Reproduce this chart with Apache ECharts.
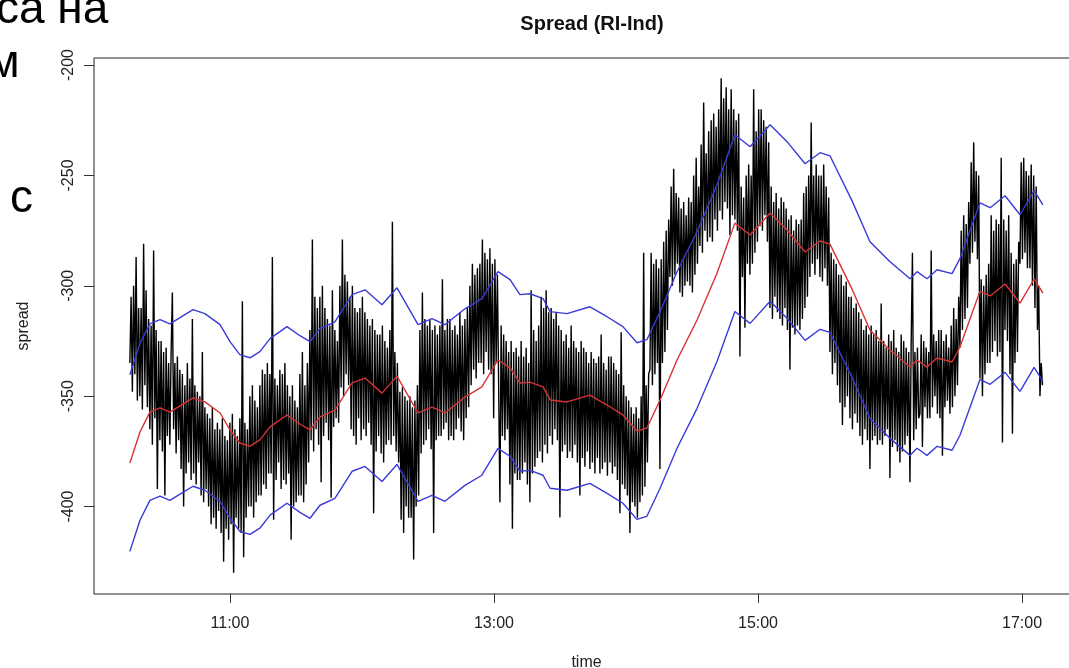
<!DOCTYPE html>
<html lang="ru">
<head>
<meta charset="UTF-8">
<title>Spread (RI-Ind)</title>
<script src="https://cdn.jsdelivr.net/npm/echarts@6/dist/echarts.min.js"></script>
<style>html,body{margin:0;padding:0;background:#fff;overflow:hidden}</style>
</head>
<body>
<div id="main" style="width:1069px;height:668px;"></div>
<script>
// spread samples, one every spreadStep minutes from spreadStart (minutes after midnight)
var spreadStart = 614.5;
var spreadStep = 0.5682;
var spread = [
    -335, -305, -348, -300, -340, -287, -352, -310,
    -350, -310, -356, -281, -345, -302, -355, -315,
    -365, -318, -372, -284, -360, -320, -392, -325,
    -370, -325, -375, -330, -395, -328, -368, -335,
    -372, -330, -303, -365, -335, -376, -332, -370,
    -338, -383, -340, -400, -345, -385, -335, -380,
    -342, -388, -315, -385, -345, -390, -348, -380,
    -350, -395, -330, -398, -355, -392, -358, -400,
    -360, -408, -355, -405, -365, -410, -362, -402,
    -365, -412, -360, -425, -368, -410, -370, -415,
    -362, -408, -358, -430, -365, -405, -368, -410,
    -360, -412, -307, -423, -362, -405, -365, -400,
    -350, -400, -345, -405, -352, -398, -355, -395,
    -345, -395, -338, -390, -340, -392, -335, -385,
    -340, -385, -287, -406, -342, -388, -345, -380,
    -338, -392, -340, -388, -335, -390, -345, -385,
    -350, -415, -345, -400, -352, -398, -355, -395,
    -340, -395, -330, -398, -345, -390, -335, -380,
    -320, -370, -279, -375, -305, -365, -310, -372,
    -305, -389, -300, -368, -310, -362, -315, -370,
    -318, -396, -302, -364, -320, -360, -325, -362,
    -300, -346, -279, -350, -295, -340, -298, -345,
    -305, -365, -300, -368, -310, -372, -312, -360,
    -310, -370, -305, -365, -312, -368, -315, -362,
    -318, -372, -315, -403, -320, -375, -322, -368,
    -322, -376, -318, -380, -325, -372, -328, -370,
    -320, -372, -271, -368, -330, -375, -335, -380,
    -348, -406, -346, -412, -350, -400, -352, -405,
    -350, -405, -355, -424, -352, -400, -345, -395,
    -320, -376, -303, -372, -315, -370, -318, -365,
    -315, -374, -320, -412, -318, -370, -322, -368,
    -318, -368, -297, -365, -320, -362, -315, -370,
    -315, -368, -320, -370, -318, -365, -322, -360,
    -312, -366, -318, -370, -315, -360, -310, -355,
    -300, -345, -290, -338, -295, -342, -292, -335,
    -290, -335, -279, -340, -285, -330, -288, -338,
    -283, -340, -290, -360, -288, -335, -295, -345,
    -398, -318, -368, -322, -370, -325, -365, -330,
    -390, -325, -410, -330, -385, -328, -388, -332,
    -388, -325, -385, -332, -380, -328, -390, -335,
    -398, -302, -385, -320, -382, -325, -378, -318,
    -375, -305, -380, -310, -372, -302, -376, -312,
    -368, -310, -372, -315, -365, -312, -370, -318,
    -405, -320, -375, -325, -372, -322, -378, -328,
    -375, -318, -378, -325, -372, -328, -380, -330,
    -395, -325, -378, -328, -382, -330, -375, -335,
    -383, -330, -380, -333, -385, -335, -378, -332,
    -385, -322, -383, -335, -380, -338, -386, -332,
    -380, -332, -385, -335, -382, -338, -388, -340,
    -403, -321, -390, -345, -392, -350, -395, -352,
    -412, -355, -398, -358, -400, -355, -405, -360,
    -398, -350, -395, -285, -391, -345, -380, -340,
    -338, -285, -345, -290, -340, -288, -335, -292,
    -383, -288, -335, -280, -330, -275, -320, -270,
    -296, -255, -300, -247, -295, -258, -290, -260,
    -303, -265, -305, -262, -300, -268, -298, -260,
    -300, -262, -303, -250, -295, -242, -290, -255,
    -282, -236, -285, -217, -275, -240, -280, -230,
    -278, -225, -280, -222, -270, -228, -275, -220,
    -266, -206, -270, -215, -262, -210, -265, -220,
    -277, -211, -268, -220, -270, -225, -275, -222,
    -332, -255, -296, -260, -319, -250, -290, -245,
    -295, -250, -290, -211, -285, -230, -280, -220,
    -273, -220, -275, -225, -268, -228, -280, -235,
    -310, -255, -315, -262, -305, -258, -312, -265,
    -315, -260, -318, -262, -310, -265, -320, -270,
    -338, -268, -319, -275, -322, -270, -318, -272,
    -320, -270, -315, -258, -310, -255, -305, -250,
    -296, -226, -290, -250, -295, -245, -288, -250,
    -296, -250, -298, -245, -292, -255, -300, -260,
    -330, -285, -340, -288, -335, -290, -345, -295,
    -353, -295, -363, -300, -355, -298, -350, -305,
    -360, -305, -365, -310, -358, -308, -362, -312,
    -368, -315, -372, -320, -365, -318, -370, -322,
    -383, -318, -370, -322, -368, -320, -372, -325,
    -370, -308, -372, -325, -368, -328, -365, -322,
    -387, -325, -373, -320, -370, -328, -375, -330,
    -380, -322, -375, -325, -372, -328, -368, -330,
    -389, -325, -285, -370, -330, -365, -328, -360,
    -358, -322, -373, -325, -355, -328, -360, -330,
    -360, -284, -355, -322, -350, -325, -358, -320,
    -360, -320, -377, -325, -355, -322, -352, -328,
    -358, -318, -355, -310, -350, -315, -345, -305,
    -328, -275, -320, -268, -315, -272, -310, -262,
    -290, -244, -285, -235, -280, -248, -288, -250,
    -342, -297, -350, -300, -340, -295, -335, -290,
    -335, -268, -330, -275, -325, -270, -332, -272,
    -330, -242, -371, -270, -320, -275, -325, -268,
    -340, -285, -367, -290, -335, -288, -330, -280,
    -290, -244, -288, -242, -285, -248, -292, -250,
    -292, -245, -300, -250, -310, -255, -320, -300,
    -350, -335, -345
];

// moving average and its bands, read at these times (minutes after midnight)
var maTime = [614.5, 619.1, 623.6, 628.2, 632.7, 637.3, 643.2, 648.6, 655.5, 660,
    664.5, 669.1, 673.6, 678.2, 685.9, 691.8, 696.4, 700.9, 707.7, 715.5,
    721.4, 729.1, 735.9, 745.5, 751.8, 757.7, 766.8, 774.5, 781.8, 787.3,
    791.8, 796.4, 802.3, 805.5, 813.2, 823.6, 831.4, 838.6, 845, 849.5,
    855.5, 863.2, 872.3, 881.4, 889.5, 896.4, 905.5, 913.2, 921.4, 928.2,
    932.7, 942.7, 950.9, 960, 969.1, 972.3, 976.8, 981.4, 988.2, 991.8,
    1000.9, 1005.5, 1012.3, 1019.1, 1025.5, 1029.5];
var ma = [-380.3, -366.2, -357.2, -355.3, -357.2, -354.4, -350.8, -352.6, -357.6, -365.3,
    -371.2, -372.6, -369.8, -363.9, -358.5, -362.6, -365.3, -359.4, -356.3, -344.0,
    -341.8, -348.6, -340.9, -357.6, -354.9, -357.6, -350.4, -345.8, -333.6, -337.2,
    -344.0, -343.6, -345.8, -351.7, -352.6, -349.5, -354.0, -358.5, -365.8, -364.4,
    -351.7, -333.6, -315.5, -294.2, -271.6, -277.0, -267.0, -274.7, -284.7, -279.7,
    -281.1, -301.4, -320.0, -329.1, -336.8, -333.6, -336.8, -332.7, -334.5, -327.7,
    -302.4, -304.6, -299.2, -307.8, -296.9, -303.3];
var bandUp = [-340.3, -326.2, -317.2, -315.3, -317.2, -314.4, -310.8, -312.6, -317.6, -325.3,
    -331.2, -332.6, -329.8, -323.9, -318.5, -322.6, -325.3, -319.4, -316.3, -304.0,
    -301.8, -308.6, -300.9, -317.6, -314.9, -317.6, -310.4, -305.8, -293.6, -297.2,
    -304.0, -303.6, -305.8, -311.7, -312.6, -309.5, -314.0, -318.5, -325.8, -324.4,
    -311.7, -293.6, -275.5, -254.2, -231.6, -237.0, -227.0, -234.7, -244.7, -239.7,
    -241.1, -261.4, -280.0, -289.1, -296.8, -293.6, -296.8, -292.7, -294.5, -287.7,
    -262.4, -264.6, -259.2, -267.8, -256.9, -263.3];
var bandLow = [-420.3, -406.2, -397.2, -395.3, -397.2, -394.4, -390.8, -392.6, -397.6, -405.3,
    -411.2, -412.6, -409.8, -403.9, -398.5, -402.6, -405.3, -399.4, -396.3, -384.0,
    -381.8, -388.6, -380.9, -397.6, -394.9, -397.6, -390.4, -385.8, -373.6, -377.2,
    -384.0, -383.6, -385.8, -391.7, -392.6, -389.5, -394.0, -398.5, -405.8, -404.4,
    -391.7, -373.6, -355.5, -334.2, -311.6, -317.0, -307.0, -314.7, -324.7, -319.7,
    -321.1, -341.4, -360.0, -369.1, -376.8, -373.6, -376.8, -372.7, -374.5, -367.7,
    -342.4, -344.6, -339.2, -347.8, -336.9, -343.3];

var xTicks = [660, 780, 900, 1020];
var yTicks = [-400, -350, -300, -250, -200];

var chart = echarts.init(document.getElementById('main'));

function hhmm(m) {
    var h = Math.floor(m / 60), mm = Math.round(m - h * 60);
    return h + ':' + (mm < 10 ? '0' : '') + mm;
}
function pairs(t, v) {
    return v.map(function (y, i) { return [t[i], y]; });
}

var spreadData = spread.map(function (v, i) {
    return [spreadStart + i * spreadStep, v];
});

var font = '"Liberation Sans", Arial, sans-serif';
var lab = { fontFamily: font, fontSize: 16, color: '#222' };

var option = {
    animation: false,
    backgroundColor: '#fff',
    title: {
        text: 'Spread (RI-Ind)',
        left: 587,
        top: 9,
        textAlign: 'center',
        textStyle: { fontFamily: font, fontSize: 20, fontWeight: 'bold', color: '#111' }
    },
    graphic: [
        { type: 'text', x: -4, y: 10, style: { text: 'са на', font: '46px ' + font, fill: '#000', verticalAlign: 'middle' } },
        { type: 'text', x: -12, y: 64, style: { text: 'м', font: '46px ' + font, fill: '#000', verticalAlign: 'middle' } },
        { type: 'text', x: 10, y: 199, style: { text: 'с', font: '46px ' + font, fill: '#000', verticalAlign: 'middle' } }
    ],
    grid: {
        left: 94,
        top: 58,
        width: 985,
        bottom: 74,
        show: true,
        borderColor: '#222',
        borderWidth: 1,
        outerBoundsMode: 'none'
    },
    xAxis: {
        type: 'value',
        min: 598.2,
        max: 1045.9,
        name: 'time',
        nameLocation: 'middle',
        nameGap: 61,
        nameTextStyle: lab,
        axisLine: { show: false },
        splitLine: { show: false },
        axisTick: { show: true, customValues: xTicks, length: 9, lineStyle: { color: '#333' } },
        axisLabel: { customValues: xTicks, margin: 22, formatter: hhmm, fontFamily: font, fontSize: 16, color: '#222' }
    },
    yAxis: {
        type: 'value',
        min: -439.6,
        max: -196.8,
        name: 'spread',
        nameLocation: 'middle',
        nameRotate: 90,
        nameGap: 62,
        nameTextStyle: lab,
        axisLine: { show: false },
        splitLine: { show: false },
        axisTick: { show: true, customValues: yTicks, length: 10, lineStyle: { color: '#333' } },
        axisLabel: { customValues: yTicks, rotate: 90, margin: 17, fontFamily: font, fontSize: 16, color: '#222' }
    },
    series: [
        {
            type: 'line', data: spreadData, symbol: 'none', silent: true, sampling: null,
            lineStyle: { color: '#000', width: 1.4 }
        },
        {
            type: 'line', data: pairs(maTime, ma), symbol: 'none', silent: true,
            lineStyle: { color: '#d83232', width: 1.4 }
        },
        {
            type: 'line', data: pairs(maTime, bandUp), symbol: 'none', silent: true,
            lineStyle: { color: '#3a3ad8', width: 1.4 }
        },
        {
            type: 'line', data: pairs(maTime, bandLow), symbol: 'none', silent: true,
            lineStyle: { color: '#3a3ad8', width: 1.4 }
        }
    ]
};

chart.setOption(option);
</script>
</body>
</html>
